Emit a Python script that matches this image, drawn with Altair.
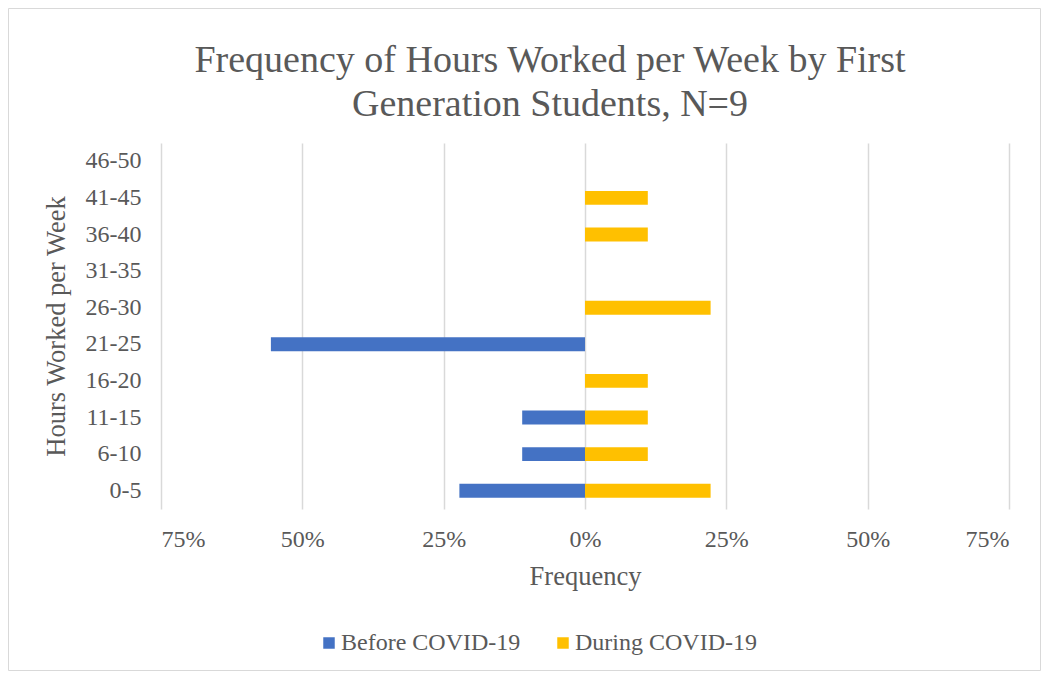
import altair as alt
import pandas as pd

categories = ["0-5", "6-10", "11-15", "16-20", "21-25", "26-30", "31-35", "36-40", "41-45", "46-50"]
before_covid = [0.2222, 0.1111, 0.1111, 0.0, 0.5556, 0.0, 0.0, 0.0, 0.0, 0.0]
during_covid = [0.2222, 0.1111, 0.1111, 0.1111, 0.0, 0.2222, 0.0, 0.1111, 0.1111, 0.0]
series_names = ["Before COVID-19", "During COVID-19"]
series_colors = ["#4472C4", "#FFC000"]
x_ticks = [-0.75, -0.5, -0.25, 0, 0.25, 0.5, 0.75]
title_lines = ["Frequency of Hours Worked per Week by First", "Generation Students, N=9"]

rows = []
for c, b, d in zip(categories, before_covid, during_covid):
    rows.append({"hours": c, "series": series_names[0], "value": -b})
    rows.append({"hours": c, "series": series_names[1], "value": d})
df = pd.DataFrame(rows)

FONT = "Liberation Serif"
TXT = "#595959"
W, H = 848, 366
PAD_L, PAD_T, PAD_R, PAD_B = 153, 135, 32, 162

bars = alt.Chart(df).mark_bar().encode(
    x=alt.X("value:Q",
            scale=alt.Scale(domain=[-0.75, 0.75], nice=False, zero=False),
            axis=alt.Axis(values=x_ticks, labelExpr="format(abs(datum.value), '.0%')",
                          grid=True, gridColor="#d9d9d9", gridWidth=1.5,
                          domain=False, ticks=False, labelPadding=18,
                          labelFont=FONT, labelFontSize=24, labelColor=TXT,
                          title="Frequency", titleFont=FONT, titleFontSize=26.5,
                          titleColor=TXT, titleFontWeight="normal", titlePadding=12)),
    y=alt.Y("hours:N", sort=categories[::-1],
            scale=alt.Scale(paddingInner=0.62, paddingOuter=0.31),
            axis=alt.Axis(grid=False, domain=False, ticks=False, labelPadding=20,
                          labelFont=FONT, labelFontSize=24, labelColor=TXT,
                          title="Hours Worked per Week", titleFont=FONT, titleFontSize=26.5,
                          titleColor=TXT, titleFontWeight="normal", titlePadding=15)),
    color=alt.Color("series:N",
                    scale=alt.Scale(domain=series_names, range=series_colors),
                    legend=alt.Legend(orient="none", legendX=156, legendY=488,
                                      direction="horizontal", title=None,
                                      symbolType="square", symbolSize=132,
                                      symbolStrokeWidth=0, labelOffset=0,
                                      columnPadding=30, labelLimit=0,
                                      labelFont=FONT, labelFontSize=24, labelColor=TXT)),
)

title = alt.Chart(alt.Data(values=[{}])).mark_text(
    text=title_lines, font=FONT, fontSize=38, color=TXT, align="center",
    baseline="alphabetic", lineHeight=44
).encode(x=alt.value(W / 2 - 35), y=alt.value(-71))

border = alt.Chart(alt.Data(values=[{}])).mark_rect(
    fill=None, stroke="#d9d9d9", strokeWidth=1
).encode(
    x=alt.value(-PAD_L + 0.5), x2=alt.value(W + PAD_R - 0.5),
    y=alt.value(-PAD_T + 0.5), y2=alt.value(H + PAD_B - 0.5),
)

chart = alt.layer(border, title, bars).properties(
    width=W, height=H,
    autosize=alt.AutoSizeParams(type="none"),
    padding={"left": PAD_L, "top": PAD_T, "right": PAD_R, "bottom": PAD_B},
    background="white",
).configure_view(stroke=None)

chart.save("out.html", embed_options={"renderer": "svg", "actions": False})
